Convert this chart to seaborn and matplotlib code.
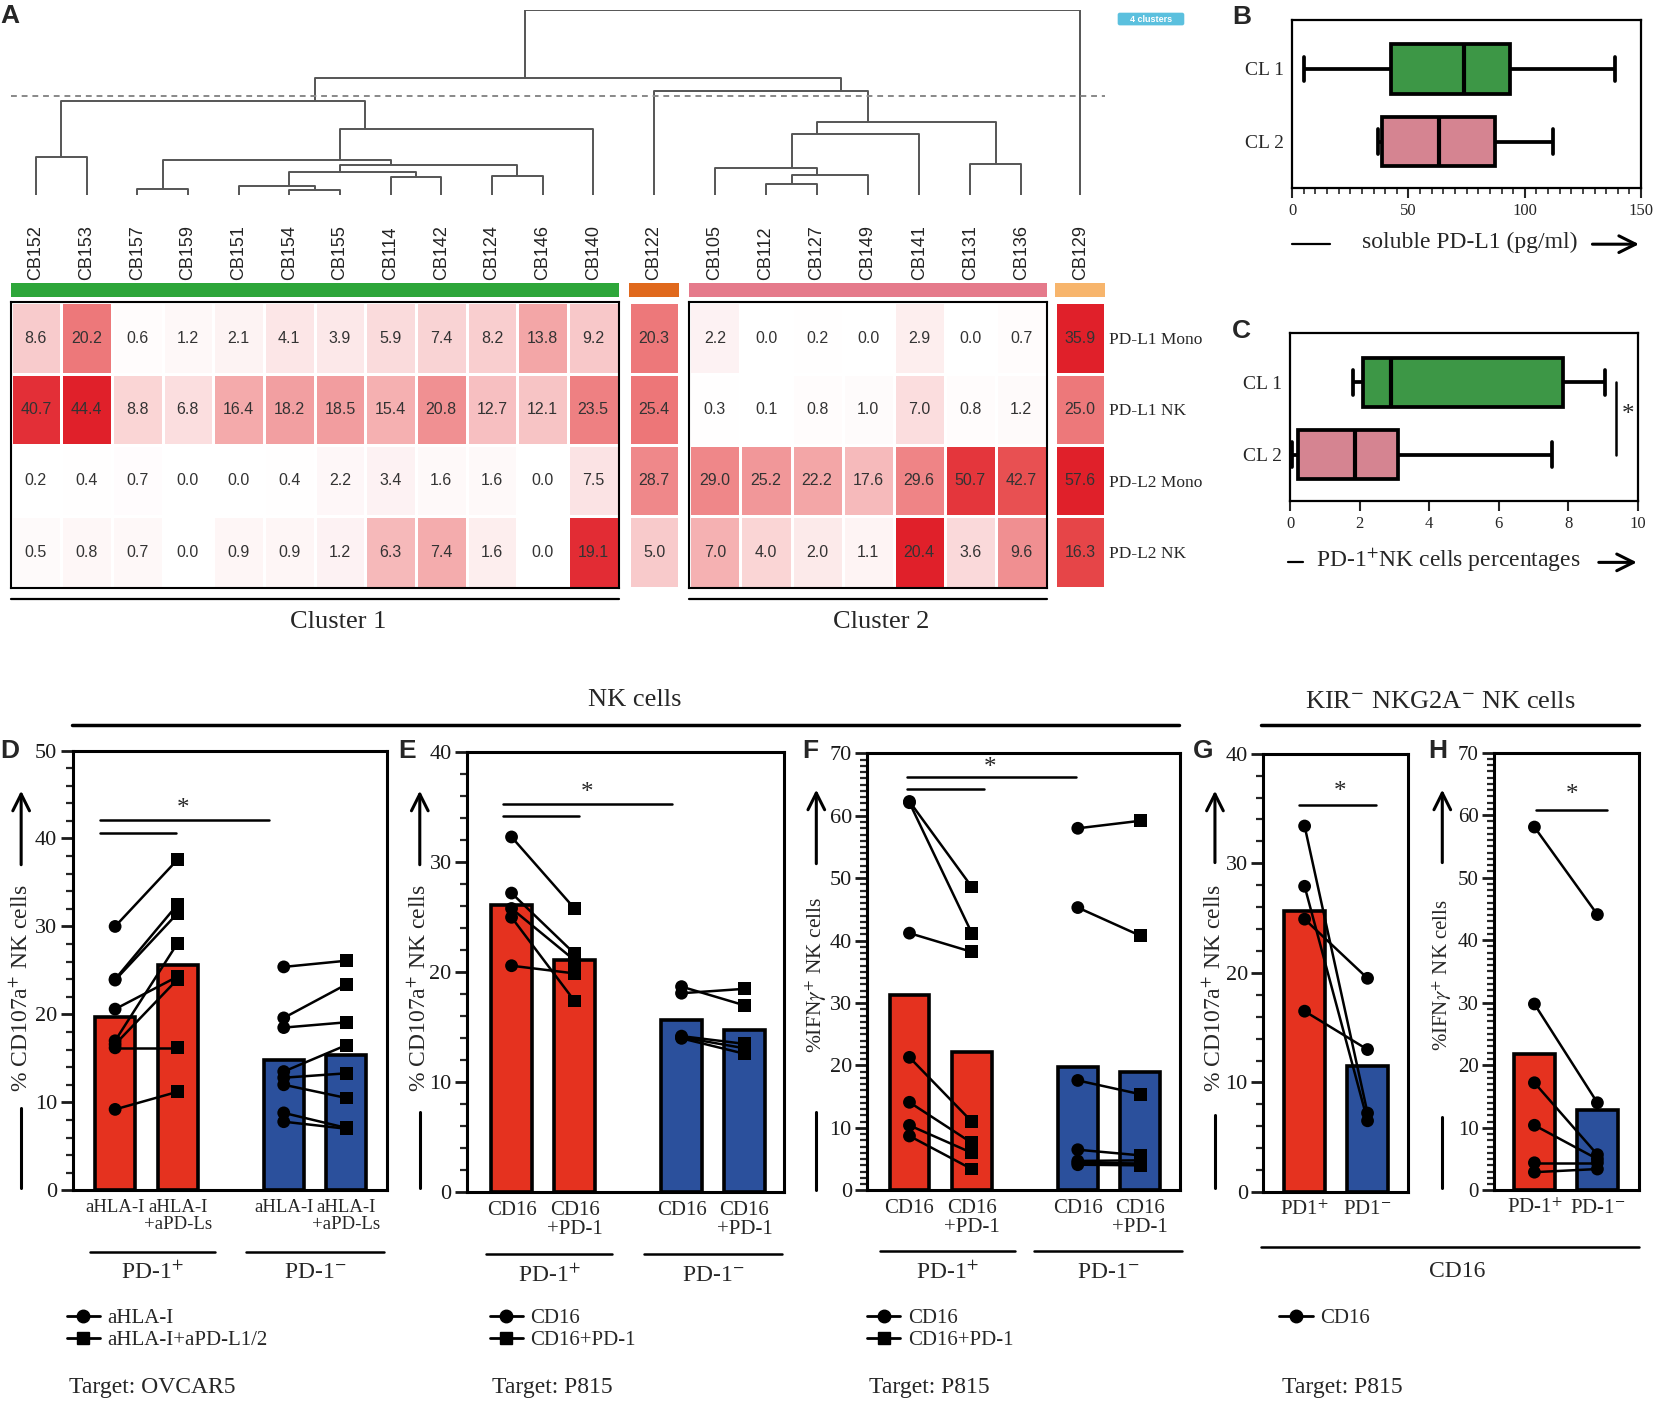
import numpy as np
import pandas as pd
import matplotlib.pyplot as plt
import seaborn as sns
from matplotlib.colors import LinearSegmentedColormap
from matplotlib.patches import Rectangle, FancyBboxPatch
from matplotlib.lines import Line2D
from matplotlib.ticker import MultipleLocator

sns.set_style("ticks")
plt.rcParams['font.family'] = ['Liberation Serif', 'DejaVu Serif']
plt.rcParams['mathtext.fontset'] = 'stix'
SANS = ['Liberation Sans', 'DejaVu Sans']

# ---------------- data: panel A (heatmap + dendrogram)
cluster1 = ['CB152', 'CB153', 'CB157', 'CB159', 'CB151', 'CB154', 'CB155',
            'CB114', 'CB142', 'CB124', 'CB146', 'CB140']
single1 = ['CB122']
cluster2 = ['CB105', 'CB112', 'CB127', 'CB149', 'CB141', 'CB131', 'CB136']
single2 = ['CB129']
samples = cluster1 + single1 + cluster2 + single2
markers = ['PD-L1 Mono', 'PD-L1 NK', 'PD-L2 Mono', 'PD-L2 NK']
pdl1_mono = [8.6, 20.2, 0.6, 1.2, 2.1, 4.1, 3.9, 5.9, 7.4, 8.2, 13.8, 9.2,
             20.3, 2.2, 0.0, 0.2, 0.0, 2.9, 0.0, 0.7, 35.9]
pdl1_nk = [40.7, 44.4, 8.8, 6.8, 16.4, 18.2, 18.5, 15.4, 20.8, 12.7, 12.1, 23.5,
           25.4, 0.3, 0.1, 0.8, 1.0, 7.0, 0.8, 1.2, 25.0]
pdl2_mono = [0.2, 0.4, 0.7, 0.0, 0.0, 0.4, 2.2, 3.4, 1.6, 1.6, 0.0, 7.5,
             28.7, 29.0, 25.2, 22.2, 17.6, 29.6, 50.7, 42.7, 57.6]
pdl2_nk = [0.5, 0.8, 0.7, 0.0, 0.9, 0.9, 1.2, 6.3, 7.4, 1.6, 0.0, 19.1,
           5.0, 7.0, 4.0, 2.0, 1.1, 20.4, 3.6, 9.6, 16.3]

# dendrogram merges: (left, right, height); 'mK' = result of merge K
merges = [('CB152', 'CB153', 20.4), ('CB157', 'CB159', 3.4), ('CB154', 'CB155', 2.5),
          ('CB151', 'm2', 5.0), ('CB114', 'CB142', 9.9), ('m3', 'm4', 12.6),
          ('CB124', 'CB146', 10.3), ('m5', 'm6', 16.4), ('m1', 'm7', 18.9),
          ('m8', 'CB140', 35.9), ('m0', 'm9', 51.0), ('CB112', 'CB127', 5.9),
          ('m11', 'CB149', 10.8), ('CB105', 'm12', 14.8), ('m13', 'CB141', 32.8),
          ('CB131', 'CB136', 16.8), ('m14', 'm15', 39.5), ('CB122', 'm16', 56.2),
          ('m10', 'm17', 63.4), ('m18', 'CB129', 100.0)]
cut_height = 53.7

# ---------------- data: panels B, C (five-number summaries)
groups_bc = ['CL 1', 'CL 2']
sol_pdl1_cl1 = [5, 42.6, 74, 93.6, 139]
sol_pdl1_cl2 = [37, 38.6, 63, 87, 112]
pd1nk_cl1 = [1.82, 2.09, 2.9, 7.84, 9.06]
pd1nk_cl2 = [0.05, 0.24, 1.87, 3.09, 7.53]

# ---------------- data: panels D-H
d_bars = [19.7, 25.6, 14.8, 15.4]
d_pos_a = [30.0, 24.0, 23.9, 20.6, 17.0, 16.6, 16.2, 9.2]
d_pos_b = [37.6, 32.5, 31.5, 24.3, 28.1, 24.0, 16.2, 11.2]
d_neg_a = [25.4, 19.6, 18.5, 13.5, 12.8, 12.0, 8.8, 7.8]
d_neg_b = [26.1, 23.4, 19.1, 16.5, 13.3, 10.5, 7.1, 7.0]

e_bars = [26.1, 21.1, 15.7, 14.8]
e_pos_a = [32.3, 27.2, 25.8, 25.0, 20.6]
e_pos_b = [25.8, 21.7, 21.1, 17.4, 19.9]
e_neg_a = [18.7, 18.1, 14.2, 14.1, 14.0]
e_neg_b = [17.0, 18.5, 13.5, 13.1, 12.6]

f_bars = [31.3, 22.1, 19.8, 18.9]
f_pos_a = [62.3, 62.1, 41.2, 21.3, 14.1, 10.4, 8.7]
f_pos_b = [48.6, 41.2, 38.2, 11.0, 7.6, 6.0, 3.4]
f_neg_a = [58.0, 45.3, 17.6, 6.5, 4.7, 4.4, 4.1]
f_neg_b = [59.2, 40.8, 15.4, 5.6, 4.8, 4.3, 4.0]

g_bars = [25.6, 11.5]
g_pos = [33.4, 27.9, 24.9, 16.5]
g_neg = [7.2, 6.5, 19.5, 13.0]

h_bars = [21.8, 12.9]
h_pos = [58.1, 29.8, 17.2, 10.4, 4.4, 2.9]
h_neg = [44.1, 14.0, 5.7, 5.0, 4.4, 3.4]

RED, BLUE = '#e5321f', '#2b509c'
GREEN, PINK = '#2ea63a', '#e27788'

# ---------------- layout helpers (pixel grid of the reference)
W, H = 1568.0, 1331.0


def rect(x0, y0, x1, y1):
    return [x0 / W, 1 - y1 / H, (x1 - x0) / W, (y1 - y0) / H]


fig = plt.figure(figsize=(16.58, 14.07), dpi=100)

# ---------------- panel A
vals = pd.DataFrame([pdl1_mono, pdl1_nk, pdl2_mono, pdl2_nk], index=markers, columns=samples)
norm = vals.div(vals.max(axis=1), axis=0)
cmap = LinearSegmentedColormap.from_list(
    'wr', [(0, '#ffffff'), (0.25, '#f8c9ca'), (0.5, '#ef8789'), (0.75, '#e84e50'), (1, '#e0202a')])

blocks = [cluster1, single1, cluster2, single2]
block_px = [(10, 585), (595, 642), (652, 990), (998, 1045)]
strip_cols = [GREEN, '#e0691d', '#e57a8b', '#f7b56c']

leaf_x = {}
for (x0, x1), cols in zip(block_px, blocks):
    cw = (x1 - x0) / len(cols)
    for i, s in enumerate(cols):
        leaf_x[s] = x0 + (i + 0.5) * cw

for k, ((x0, x1), cols) in enumerate(zip(block_px, blocks)):
    ax = fig.add_axes(rect(x0, 286, x1, 556))
    sns.heatmap(norm[cols], annot=vals[cols].values, fmt='.1f', cmap=cmap, vmin=0, vmax=1,
                cbar=False, linewidths=0.8, linecolor='white', ax=ax,
                annot_kws=dict(color='#333333', fontsize=11.5, family=SANS))
    ax.xaxis.tick_top()
    ax.set_xticks(np.arange(len(cols)) + 0.5)
    ax.set_xticklabels(cols, rotation=90, fontsize=13, family=SANS, color='#222222')
    ax.tick_params(axis='x', length=0, pad=16)
    ax.set_xlabel('')
    ax.set_ylabel('')
    if k == 3:
        ax.yaxis.tick_right()
        ax.set_yticks(np.arange(4) + 0.5)
        ax.set_yticklabels(markers, rotation=0, fontsize=12.5)
        ax.tick_params(axis='y', length=0, pad=3)
    else:
        ax.set_yticks([])
    if k in (0, 2):
        for sp in ax.spines.values():
            sp.set_visible(True)
            sp.set_linewidth(1.5)
            sp.set_color('black')

# dendrogram
dax = fig.add_axes(rect(0, 9.5, W, 184.5))
dax.set_xlim(0, W)
dax.set_ylim(0, 100)
dax.axis('off')
node = {s: (leaf_x[s], 0.0, [leaf_x[s]]) for s in samples}
for k, (a, b, h) in enumerate(merges):
    xa, ha, la = node[a]
    xb, hb, lb = node[b]
    dax.plot([xa, xa, xb, xb], [ha, h, h, hb], color='#555555', lw=1.4, solid_capstyle='butt')
    node[f'm{k}'] = (np.mean(la + lb), h, la + lb)
dax.plot([10, 1045], [cut_height, cut_height], color='#888888', lw=1.4, ls=(0, (3, 2.5)))

# ---------------- panels B and C
def box_panel(pos, cl1, cl2, xmax, major, minor):
    ax = fig.add_axes(rect(*pos))
    df = pd.DataFrame({'value': cl1 + cl2, 'group': [groups_bc[0]] * 5 + [groups_bc[1]] * 5})
    sns.boxplot(data=df, x='value', y='group', hue='group', palette=[GREEN, PINK], legend=False,
                orient='h', whis=(0, 100), width=0.68, linecolor='black', linewidth=2.7,
                medianprops=dict(lw=3), ax=ax)
    ax.set_xlim(0, xmax)
    ax.set_ylim(1.64, -0.68)
    ax.xaxis.set_major_locator(MultipleLocator(major))
    if minor:
        ax.xaxis.set_minor_locator(MultipleLocator(minor))
    ax.tick_params(axis='x', which='major', length=7, width=1.5, labelsize=12, pad=4)
    ax.tick_params(axis='x', which='minor', length=4, width=1.2)
    ax.tick_params(axis='y', length=0, labelsize=14, pad=6)
    ax.set_xlabel('')
    ax.set_ylabel('')
    for sp in ax.spines.values():
        sp.set_visible(True)
        sp.set_linewidth(1.6)
        sp.set_color('black')
    return ax


bax = box_panel((1222, 18.5, 1552, 178), sol_pdl1_cl1, sol_pdl1_cl2, 150, 50, 5)
cax = box_panel((1220, 315, 1549, 474), pd1nk_cl1, pd1nk_cl2, 10, 2, None)
cax.plot([9.36, 9.36], [0, 1], color='black', lw=1.8)
cax.text(9.72, 0.45, '*', ha='center', va='center', fontsize=18)

# ---------------- panels D-H
POS4 = [0, 1, 2.7, 3.7]
POS2 = [0, 1]


def bar_panel(pos, xlim, ymax, minor, xs, bars, colors, pairs, labels, brackets, star, groups,
              xfs=15, yfs=16):
    ax = fig.add_axes(rect(*pos))
    ax.bar(xs, bars, width=0.64, color=colors, edgecolor='black', linewidth=2.6, zorder=1)
    rows = []
    did = 0
    for xa, xb, va, vb, ma, mb in pairs:
        for a, b in zip(va, vb):
            rows.append((did, xa, a, ma))
            rows.append((did, xb, b, mb))
            did += 1
    df = pd.DataFrame(rows, columns=['donor', 'x', 'y', 'mk'])
    sns.lineplot(data=df, x='x', y='y', units='donor', estimator=None, sort=False,
                 color='black', lw=1.8, legend=False, ax=ax, zorder=3)
    mk_map = {m: m for m in df['mk'].unique()}
    sns.scatterplot(data=df, x='x', y='y', style='mk', markers=mk_map, color='black',
                    s=85, linewidth=0, legend=False, ax=ax, zorder=4)
    ax.set_xlim(*xlim)
    ax.set_ylim(0, ymax)
    ax.set_xticks(xs)
    ax.set_xticklabels(labels, fontsize=xfs, linespacing=1.0, va='top')
    ax.tick_params(axis='x', length=0, pad=6)
    ax.yaxis.set_major_locator(MultipleLocator(10))
    ax.yaxis.set_minor_locator(MultipleLocator(minor))
    ax.tick_params(axis='y', which='major', length=9, width=2, labelsize=yfs, pad=2, colors='#1a1a1a')
    ax.tick_params(axis='y', which='minor', length=5, width=1.6)
    ax.set_xlabel('')
    ax.set_ylabel('')
    for sp in ax.spines.values():
        sp.set_visible(True)
        sp.set_linewidth(2.2)
        sp.set_color('black')
    for x0, x1, y in brackets:
        ax.plot([x0, x1], [y, y], color='black', lw=1.8, clip_on=False)
    ax.text(star[0], star[1], '*', ha='center', va='center', fontsize=18)
    tr = ax.get_xaxis_transform()
    for x0, x1, lab in groups:
        ax.plot([x0, x1], [-0.14, -0.14], transform=tr, color='black', lw=1.8, clip_on=False)
        ax.text((x0 + x1) / 2, -0.188, lab, transform=tr, ha='center', va='center', fontsize=17)
    return ax


PLUS, MINUS = 'PD-1$^{+}$', 'PD-1$^{-}$'
grp4 = [(-0.4, 1.6, PLUS), (2.1, 4.3, MINUS)]
lab_d = ['aHLA-I', 'aHLA-I\n+aPD-Ls', 'aHLA-I', 'aHLA-I\n+aPD-Ls']
lab_ef = ['CD16', 'CD16\n+PD-1', 'CD16', 'CD16\n+PD-1']

dA = bar_panel((68.7, 710, 365.8, 1126), (-0.68, 4.35), 50, 2, POS4, d_bars, [RED, RED, BLUE, BLUE],
               [(0, 1, d_pos_a, d_pos_b, 'o', 's'), (2.7, 3.7, d_neg_a, d_neg_b, 'o', 's')],
               lab_d, [(-0.24, 0.97, 40.6), (-0.24, 2.46, 42.1)], (1.08, 43.4), grp4, xfs=13.5)
eA = bar_panel((441.5, 711.6, 741, 1128), (-0.71, 4.32), 40, 2, POS4, e_bars, [RED, RED, BLUE, BLUE],
               [(0, 1, e_pos_a, e_pos_b, 'o', 's'), (2.7, 3.7, e_neg_a, e_neg_b, 'o', 's')],
               lab_ef, [(-0.13, 1.07, 34.2), (-0.13, 2.55, 35.3)], (1.2, 36.3), grp4)
fA = bar_panel((820, 712.7, 1116, 1126), (-0.68, 4.34), 70, 1, POS4, f_bars, [RED, RED, BLUE, BLUE],
               [(0, 1, f_pos_a, f_pos_b, 'o', 's'), (2.7, 3.7, f_neg_a, f_neg_b, 'o', 's')],
               lab_ef, [(-0.04, 1.19, 64.3), (-0.04, 2.67, 66.2)], (1.3, 67.6),
               [(-0.47, 1.69, PLUS), (2.0, 4.37, MINUS)])
gA = bar_panel((1194.5, 713, 1332, 1127.6), (-0.66, 1.65), 40, 2, POS2, g_bars, [RED, BLUE],
               [(0, 1, g_pos, g_neg, 'o', 'o')],
               ['PD1$^{+}$', 'PD1$^{-}$'], [(-0.09, 1.14, 35.3)], (0.57, 36.5), [])
hA = bar_panel((1413, 712, 1550, 1126), (-0.64, 1.66), 70, 1, POS2, h_bars, [RED, BLUE],
               [(0, 1, h_pos, h_neg, 'o', 'o')],
               [PLUS, MINUS], [(0.02, 1.16, 60.8)], (0.6, 63.2), [], yfs=15)

# legends
h_circ = Line2D([0], [0], color='black', lw=2, marker='o', ms=9)
h_sq = Line2D([0], [0], color='black', lw=2, marker='s', ms=8.5)
for ax, hs, labs, (lx, ly) in [
        (dA, [h_circ, h_sq], ['aHLA-I', 'aHLA-I+aPD-L1/2'], (63, 1238)),
        (eA, [h_circ, h_sq], ['CD16', 'CD16+PD-1'], (463, 1238)),
        (fA, [h_circ, h_sq], ['CD16', 'CD16+PD-1'], (820, 1238)),
        (gA, [h_circ], ['CD16'], (1210, 1238))]:
    ax.legend(hs, labs, loc='upper left', bbox_to_anchor=(lx / W, 1 - ly / H),
              bbox_transform=fig.transFigure, frameon=False, fontsize=15, handlelength=1.6,
              handletextpad=0.35, labelspacing=0.12, borderpad=0, borderaxespad=0)

# ---------------- overlay: titles, labels, decorations
ov = fig.add_axes([0, 0, 1, 1], facecolor='none')
ov.set_xlim(0, W)
ov.set_ylim(H, 0)
ov.axis('off')

for (x0, x1), c in zip(block_px, strip_cols):
    ov.add_patch(Rectangle((x0, 268), x1 - x0, 13, color=c, lw=0))

ov.add_patch(FancyBboxPatch((1057, 12), 63, 12, boxstyle='round,pad=0,rounding_size=2',
                            fc='#5bc0de', ec='none'))
ov.text(1088.5, 18, '4 clusters', color='white', fontsize=6.5, fontweight='bold',
        family=SANS, ha='center', va='center')

for x0, x1, lab, xc in [(10, 585, 'Cluster 1', 320), (652, 990, 'Cluster 2', 833)]:
    ov.plot([x0, x1], [567, 567], color='black', lw=1.6)
    ov.text(xc, 588, lab, ha='center', va='center', fontsize=19)

ov.plot([68, 1115], [686, 686], color='black', lw=2.5)
ov.text(600, 662, 'NK cells', ha='center', va='center', fontsize=19)
ov.plot([1193, 1550], [686, 686], color='black', lw=2.5)
ov.text(1362, 664, 'KIR$^{-}$ NKG2A$^{-}$ NK cells', ha='center', va='center', fontsize=19)
ov.plot([1193, 1550], [1180, 1180], color='black', lw=1.8)
ov.text(1378, 1203, 'CD16', ha='center', va='center', fontsize=17)

for x, txt in [(65, 'Target: OVCAR5'), (465, 'Target: P815'), (822, 'Target: P815'),
               (1212, 'Target: P815')]:
    ov.text(x, 1313, txt, ha='left', va='center', fontsize=17)

ARW = dict(arrowstyle='->', lw=2.2, color='black', mutation_scale=30, shrinkA=0, shrinkB=0)
CD107 = '% CD107a$^{+}$ NK cells'
IFNG = '%IFN$\\gamma^{+}$ NK cells'
for x, yc, a0, a1, l0, l1, txt, fs in [
        (20, 935, 818, 748, 1048, 1124, CD107, 17),
        (397, 935, 818, 748, 1052, 1124, CD107, 17),
        (772, 922, 817, 747, 1052, 1126, IFNG, 15.5),
        (1149, 935, 816, 748, 1055, 1124, CD107, 17),
        (1364, 922, 816, 747, 1057, 1124, IFNG, 15)]:
    ov.text(x, yc, txt, rotation=90, ha='center', va='center', fontsize=fs)
    ov.annotate('', xy=(x, a1), xytext=(x, a0), arrowprops=ARW)
    ov.plot([x, x], [l0, l1], color='black', lw=2.2)

for xc, y, txt, l0, l1, a0, a1 in [
        (1390, 229, 'soluble PD-L1 (pg/ml)', 1222, 1258, 1506, 1550),
        (1370, 530, 'PD-1$^{+}$NK cells percentages', 1218, 1232, 1512, 1548)]:
    ov.text(xc, y, txt, ha='center', va='center', fontsize=17)
    ov.plot([l0, l1], [y + 2, y + 2], color='black', lw=1.6)
    ov.annotate('', xy=(a1, y + 2), xytext=(a0, y + 2), arrowprops=ARW)

for x, y, letter in [(0, 4, 'A'), (1165, 5, 'B'), (1165, 302, 'C'), (0, 699, 'D'),
                     (377, 699, 'E'), (759, 699, 'F'), (1128, 699, 'G'), (1351, 699, 'H')]:
    ov.text(x, y, letter, ha='left', va='top', fontsize=19, fontweight='bold', family=SANS)

fig.savefig('out.png', dpi=100)
